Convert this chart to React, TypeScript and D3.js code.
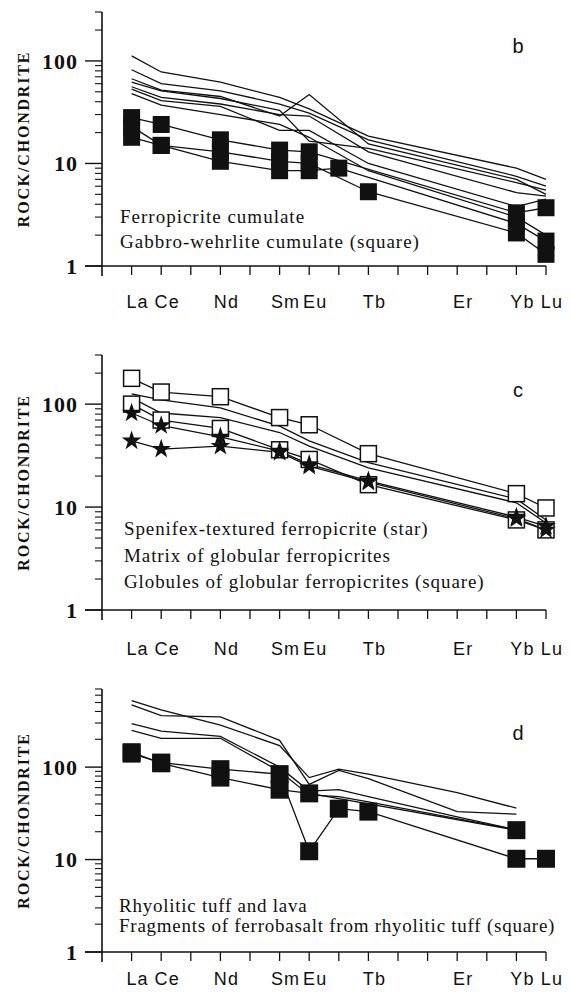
import React, { useEffect, useRef } from "react";
import * as d3 from "d3";

// REE order on the x axis (index 1..15)
const ELEMENTS = ["La", "Ce", "Pr", "Nd", "Pm", "Sm", "Eu", "Gd", "Tb", "Dy", "Ho", "Er", "Tm", "Yb", "Lu"];
const TICK_LABELS = ["La", "Ce", "Nd", "Sm", "Eu", "Tb", "Er", "Yb", "Lu"];
// elements that were analysed; null = not measured for a sample
const MEASURED = ["La", "Ce", "Nd", "Sm", "Eu", "Gd", "Tb", "Er", "Yb", "Lu"];

// panel b
const bFerropicrite = [
  [112, 78, 62, 44, 34, null, 18.5, null, 9, 7],
  [82, 60, 51, 38, 31, null, 17, null, 7.5, 6],
  [67, 52, 45, 29, 47, null, 15.5, null, 7, 5],
  [62, 51, 43, 33, 16.5, null, 14, null, 6.5, 5.5],
  [56, 44, 38, 30, 29, null, 13, null, 5.2, 4.8],
  [53, 41, 36, 21, 21, null, 10, null, 3.8, 4.5],
  [48, 37, 30, 24, 18, null, 8.5, null, 3, 2],
];
const bGabbro = [
  [28, 24, 17, 13.5, 13, null, null, null, 3.3, 3.7],
  [23, 15, 10.5, 8.5, 8.5, 9, null, null, 2.6, 1.75],
  [18, 15, 13, 10.5, 10, null, 5.3, null, 2.1, 1.3],
];

// panel c
const cGlobules = [
  [178, 131, 118, 74, 63, null, 33, null, 13.5, 9.8],
  [100, 70, 58, 36, 29, null, 16.5, null, 7.5, 6],
];
const cMatrix = [
  [126, 110, 92, 61, 44, null, 27, null, 12, 7.5],
  [115, 82, 74, 53, 39, null, 24, null, 11, 7],
];
const cSpinifex = [
  [82, 62, 48, 35, 26, null, 18, null, 8, 6.5],
  [44, 36.5, 39, 34, 25, null, 17.5, null, 7.7, 6],
];

// panel d
const dRhyolite = [
  [525, 416, 285, 171, 77, 95, 84, 53, 36, null],
  [472, 360, 350, 195, 65, 92, 75, 33, 31, null],
  [295, 245, 215, 100, 55, 57, 48, 29, 21, null],
  [250, 205, 205, 90, 50, 48, 42, null, 21, null],
];
const dFerrobasalt = [
  [140, 112, 95, 84, 12.3, 35.5, 33, null, 10.2, 10.2],
  [145, 110, 77, 57, 52, null, null, null, 20.8, null],
];

const PANELS = [
  {
    letter: "b", top: 12, bottom: 266, yMax: 300, labelBase: 308, letterY: 53,
    legend: ["Ferropicrite cumulate", "Gabbro-wehrlite cumulate (square)"],
    legendX: 120, legendY: 223, legendGap: 25, legendSpacing: 1,
    series: [
      { data: bFerropicrite, mark: "none" },
      { data: bGabbro, mark: "filled", size: 17 },
    ],
  },
  {
    letter: "c", top: 355, bottom: 610, yMax: 300, labelBase: 655, letterY: 397,
    legend: ["Spenifex-textured ferropicrite (star)", "Matrix of globular ferropicrites", "Globules of globular ferropicrites (square)"],
    legendX: 124, legendY: 535, legendGap: 26.5, legendSpacing: 0.9,
    series: [
      { data: cMatrix, mark: "none" },
      { data: cGlobules, mark: "open", size: 16 },
      { data: cSpinifex, mark: "star", size: 120 },
    ],
  },
  {
    letter: "d", top: 689, bottom: 952, yMax: 700, labelBase: 985, letterY: 740,
    legend: ["Rhyolitic tuff and lava", "Fragments of ferrobasalt from rhyolitic tuff (square)"],
    legendX: 119, legendY: 912, legendGap: 20, legendSpacing: 0.75,
    series: [
      { data: dRhyolite, mark: "none" },
      { data: dFerrobasalt, mark: "filled", size: 18 },
    ],
  },
];

const SERIF = "'Liberation Serif', 'Times New Roman', serif";
const SANS = "'Liberation Sans', Arial, sans-serif";

const App = () => {
  const svgRef = useRef(null);

  useEffect(() => {
    document.body.style.margin = "0";
    const svg = d3.select(svgRef.current);
    svg.selectAll("*").remove();

    const x = d3.scaleLinear().domain([0, 15]).range([102, 546]);
    const idx = (el) => ELEMENTS.indexOf(el) + 1;

    PANELS.forEach((p) => {
      const g = svg.append("g");
      const y = d3.scaleLog().domain([1, p.yMax]).range([p.bottom, p.top]);

      // y axis
      g.append("line")
        .attr("x1", x(0)).attr("x2", x(0))
        .attr("y1", p.top).attr("y2", p.bottom + 10)
        .attr("stroke", "#111").attr("stroke-width", 1.6);

      const ticks = y.ticks().filter((t) => t <= p.yMax);
      ticks.forEach((t) => {
        const major = Math.abs(Math.log10(t) - Math.round(Math.log10(t))) < 1e-6;
        g.append("line")
          .attr("x1", x(0) - (major ? 17 : 7)).attr("x2", x(0))
          .attr("y1", y(t)).attr("y2", y(t))
          .attr("stroke", "#111").attr("stroke-width", major ? 1.4 : 1.1);
        if (major) {
          g.append("text")
            .attr("x", 78).attr("y", y(t))
            .attr("dy", "0.35em")
            .attr("text-anchor", "end")
            .attr("font-family", SERIF)
            .attr("font-weight", "bold")
            .attr("font-size", 22)
            .attr("letter-spacing", 1)
            .attr("fill", "#111")
            .text(d3.format("d")(t));
        }
      });

      // x axis
      g.append("line")
        .attr("x1", 85).attr("x2", x(15))
        .attr("y1", p.bottom).attr("y2", p.bottom)
        .attr("stroke", "#111").attr("stroke-width", 1.6);
      d3.range(1, 16).forEach((i) => {
        g.append("line")
          .attr("x1", x(i)).attr("x2", x(i))
          .attr("y1", p.bottom).attr("y2", p.bottom + 9)
          .attr("stroke", "#111").attr("stroke-width", 1.3);
      });
      TICK_LABELS.forEach((el) => {
        g.append("text")
          .attr("x", x(idx(el)))
          .attr("dx", 6)
          .attr("y", p.labelBase)
          .attr("text-anchor", "middle")
          .attr("font-family", SANS)
          .attr("font-size", 18)
          .attr("letter-spacing", 1.2)
          .attr("fill", "#111")
          .text(el);
      });

      // axis title
      g.append("text")
        .attr("transform", `translate(29,${(p.top + p.bottom) / 2}) rotate(-90)`)
        .attr("text-anchor", "middle")
        .attr("font-family", SERIF)
        .attr("font-weight", "bold")
        .attr("font-size", 16)
        .attr("letter-spacing", 1.8)
        .attr("fill", "#111")
        .text("ROCK/CHONDRITE");

      // panel letter
      g.append("text")
        .attr("x", 518).attr("y", p.letterY)
        .attr("text-anchor", "middle")
        .attr("font-family", SANS)
        .attr("font-size", 20)
        .attr("fill", "#111")
        .text(p.letter);

      // legend text
      p.legend.forEach((t, k) => {
        g.append("text")
          .attr("x", p.legendX).attr("y", p.legendY + k * p.legendGap)
          .attr("font-family", SERIF)
          .attr("font-size", 19)
          .attr("letter-spacing", p.legendSpacing)
          .attr("fill", "#111")
          .text(t);
      });

      const line = d3.line().x((d) => x(d.i)).y((d) => y(d.v));
      const toPts = (row) =>
        row
          .map((v, k) => ({ i: idx(MEASURED[k]), v }))
          .filter((d) => d.v != null);

      // lines first
      p.series.forEach((s) => {
        s.data.forEach((row) => {
          g.append("path")
            .attr("d", line(toPts(row)))
            .attr("fill", "none")
            .attr("stroke", "#111")
            .attr("stroke-width", 1.3);
        });
      });

      // markers on top
      p.series.forEach((s) => {
        if (s.mark === "none") return;
        s.data.forEach((row) => {
          const pts = toPts(row);
          if (s.mark === "star") {
            g.selectAll(null)
              .data(pts)
              .enter()
              .append("path")
              .attr("transform", (d) => `translate(${x(d.i)},${y(d.v)})`)
              .attr("d", d3.symbol().type(d3.symbolStar).size(s.size)())
              .attr("fill", "#111");
          } else {
            g.selectAll(null)
              .data(pts)
              .enter()
              .append("rect")
              .attr("x", (d) => x(d.i) - s.size / 2)
              .attr("y", (d) => y(d.v) - s.size / 2)
              .attr("width", s.size)
              .attr("height", s.size)
              .attr("fill", s.mark === "filled" ? "#111" : "#fff")
              .attr("stroke", "#111")
              .attr("stroke-width", s.mark === "filled" ? 0 : 1.5);
          }
        });
      });
    });
  }, []);

  return (
    <svg ref={svgRef} width={570} height={998} style={{ display: "block", background: "#fff" }}></svg>
  );
};

export default App;
